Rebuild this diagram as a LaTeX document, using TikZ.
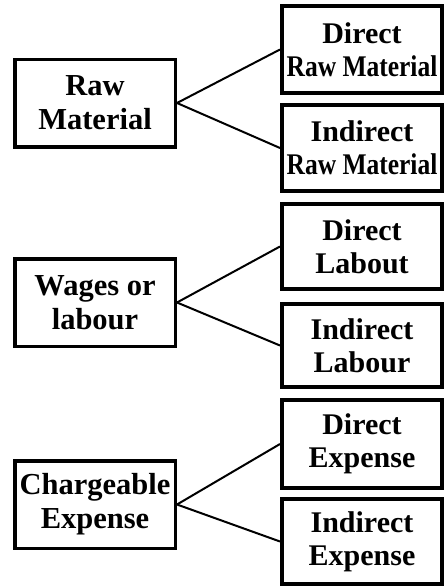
\documentclass[tikz,border=0pt]{standalone}
\usepackage{fontspec}
\usepackage{graphicx}
\setmainfont{Liberation Serif}
\begin{document}
\begin{tikzpicture}[x=1pt,y=-1pt,
  leftbox/.style={draw=black, line width=3.5pt, minimum width=160.5pt, minimum height=87.5pt,
    align=center, inner sep=0pt, font=\fontsize{30.5}{34}\selectfont\bfseries},
  rightbox/.style={draw=black, line width=4pt, minimum width=160pt,
    align=center, inner sep=0pt, font=\fontsize{30}{33}\selectfont\bfseries},
  conn/.style={draw=black, line width=2pt}]
\useasboundingbox (0,0) rectangle (446,587);
% left boxes
\node[leftbox] (raw) at (95,103) {Raw\\Material};
\node[leftbox] (wages) at (95,302.5) {Wages or\\labour};
\node[leftbox] (charge) at (95,504.5) {Chargeable\\Expense};
% right boxes
\node[rightbox, minimum height=87pt] (draw1) at (362,49.5) {Direct\\\scalebox{0.85}[1]{Raw Material}};
\node[rightbox, minimum height=86pt] (iraw) at (362,148) {Indirect\\\scalebox{0.85}[1]{Raw Material}};
\node[rightbox, minimum height=85pt] (dlab) at (362,246.5) {Direct\\Labout};
\node[rightbox, minimum height=83pt] (ilab) at (362,345.5) {Indirect\\Labour};
\node[rightbox, minimum height=88pt] (dexp) at (362,444) {Direct\\Expense};
\node[rightbox, minimum height=85pt] (iexp) at (362,541.5) {Indirect\\Expense};
% connectors
\draw[conn] (raw.east) -- (draw1.west);
\draw[conn] (raw.east) -- (iraw.west);
\draw[conn] (wages.east) -- (dlab.west);
\draw[conn] (wages.east) -- (ilab.west);
\draw[conn] (charge.east) -- (dexp.west);
\draw[conn] (charge.east) -- (iexp.west);
\end{tikzpicture}
\end{document}
